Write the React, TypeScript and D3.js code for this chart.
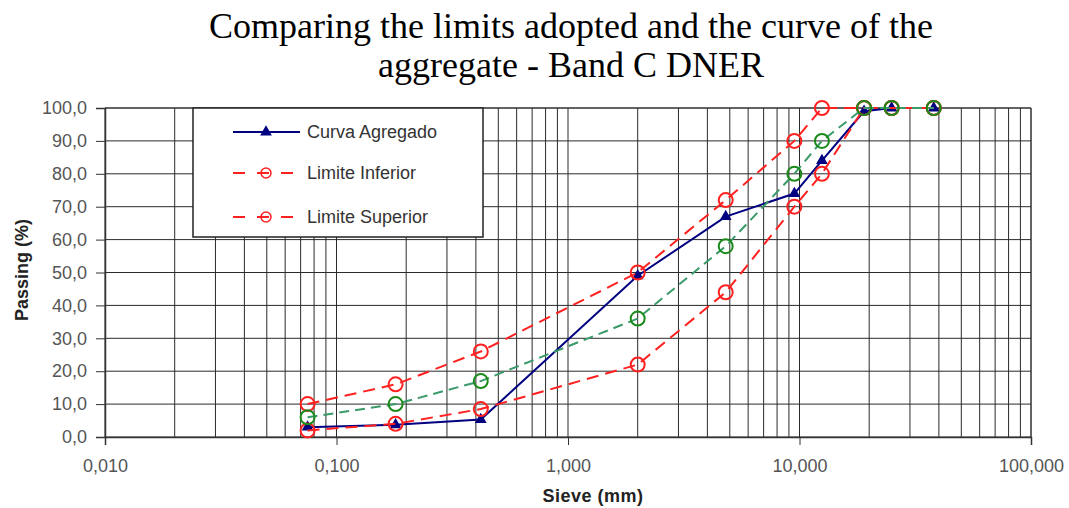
import * as React from "react";
import { useRef, useEffect } from "react";
import * as d3 from "d3";

// sieve openings (mm)
const sieves = [0.075, 0.18, 0.42, 2.0, 4.8, 9.5, 12.5, 19, 25, 38];
const curvaAgregado = [3, 3.7, 5.3, 49, 67, 74, 84, 99, 100, 100];
const limiteInferior = [2, 4, 8.5, 22, 44, 70, 80, 100, 100, 100];
const limiteSuperior = [10, 16, 26, 50, 72, 90, 100, 100, 100, 100];
const faixaCentro = [6, 10, 17, 36, 58, 80, 90, 100, 100, 100];

const xTicks = [0.01, 0.1, 1, 10, 100];
const xTickLabels = ["0,010", "0,100", "1,000", "10,000", "100,000"];
const yTicks = [0, 10, 20, 30, 40, 50, 60, 70, 80, 90, 100];

const titleLines = [
  "Comparing the limits adopted and the curve of the",
  "aggregate - Band C DNER",
];
const legendNames = ["Curva Agregado", "Limite Inferior", "Limite Superior"];

const W = 1069;
const H = 508;
const SANS = "'Liberation Sans', Arial, sans-serif";

export default function App() {
  const ref = useRef<SVGSVGElement>(null);

  useEffect(() => {
    const svg = d3.select(ref.current);
    svg.selectAll("*").remove();

    const margin = { top: 108, right: 38, bottom: 71, left: 105 };
    const width = W - margin.left - margin.right;
    const height = H - margin.top - margin.bottom;

    const x = d3.scaleLog().domain([0.01, 100]).range([0, width]);
    const y = d3.scaleLinear().domain([0, 100]).range([height, 0]);

    // title
    svg
      .append("g")
      .selectAll("text")
      .data(titleLines)
      .enter()
      .append("text")
      .attr("x", 571)
      .attr("y", (_, i) => 38 + i * 39)
      .attr("text-anchor", "middle")
      .attr("font-family", "'Liberation Serif', 'Times New Roman', serif")
      .attr("font-size", 36)
      .attr("fill", "#000")
      .text((d) => d);

    const g = svg
      .append("g")
      .attr("transform", `translate(${margin.left},${margin.top})`);

    // grid: every log tick
    const minor: number[] = [];
    for (let p = -2; p < 2; p++) {
      for (let k = 1; k <= 9; k++) minor.push(k * Math.pow(10, p));
    }
    minor.push(100);

    g.append("g")
      .selectAll("line")
      .data(minor)
      .enter()
      .append("line")
      .attr("x1", (d) => x(d))
      .attr("x2", (d) => x(d))
      .attr("y1", 0)
      .attr("y2", height)
      .attr("stroke", "#2a2a2a")
      .attr("stroke-width", 1);

    g.append("g")
      .selectAll("line")
      .data(yTicks)
      .enter()
      .append("line")
      .attr("x1", 0)
      .attr("x2", width)
      .attr("y1", (d) => y(d))
      .attr("y2", (d) => y(d))
      .attr("stroke", "#2a2a2a")
      .attr("stroke-width", 1);

    // axes
    const yAxis = d3
      .axisLeft(y)
      .tickValues(yTicks)
      .tickSize(9)
      .tickPadding(9)
      .tickFormat((d) => (d as number).toFixed(1).replace(".", ","));
    const ya = g.append("g").call(yAxis);
    ya.select(".domain").attr("stroke", "#333").attr("stroke-width", 1.5);
    ya.selectAll(".tick line").attr("stroke", "#333");
    ya.selectAll(".tick text")
      .attr("font-family", SANS)
      .attr("font-size", 18)
      .attr("fill", "#555");

    const xAxis = d3
      .axisBottom(x)
      .tickValues(xTicks)
      .tickSize(8)
      .tickPadding(14)
      .tickFormat((_, i) => xTickLabels[i]);
    const xa = g.append("g").attr("transform", `translate(0,${height})`).call(xAxis);
    xa.select(".domain").attr("stroke", "#333").attr("stroke-width", 1.5);
    xa.selectAll(".tick line").attr("stroke", "#333");
    xa.selectAll(".tick text")
      .attr("font-family", SANS)
      .attr("font-size", 18)
      .attr("fill", "#555");

    // plot border top/right
    g.append("line").attr("x1", 0).attr("x2", width).attr("y1", 0).attr("y2", 0).attr("stroke", "#333");
    g.append("line").attr("x1", width).attr("x2", width).attr("y1", 0).attr("y2", height).attr("stroke", "#333");

    // axis titles
    svg
      .append("text")
      .attr("transform", `translate(28,270) rotate(-90)`)
      .attr("text-anchor", "middle")
      .attr("font-family", SANS)
      .attr("font-size", 18)
      .attr("font-weight", "bold")
      .attr("fill", "#222")
      .text("Passing  (%)");

    svg
      .append("text")
      .attr("x", 593)
      .attr("y", 502)
      .attr("text-anchor", "middle")
      .attr("font-family", SANS)
      .attr("font-size", 18)
      .attr("font-weight", "bold")
      .attr("letter-spacing", 0.5)
      .attr("fill", "#222")
      .text("Sieve  (mm)");

    // series
    const pts = (vals: number[]) => sieves.map((s, i) => [s, vals[i]] as [number, number]);
    const line = d3
      .line<[number, number]>()
      .x((d) => x(d[0]))
      .y((d) => y(d[1]));

    const drawCircles = (vals: number[], stroke: string) => {
      g.append("g")
        .selectAll("circle")
        .data(pts(vals))
        .enter()
        .append("circle")
        .attr("cx", (d) => x(d[0]))
        .attr("cy", (d) => y(d[1]))
        .attr("r", 7)
        .attr("fill", "none")
        .attr("stroke", stroke)
        .attr("stroke-width", 2);
    };

    // curva agregado
    g.append("path")
      .datum(pts(curvaAgregado))
      .attr("fill", "none")
      .attr("stroke", "#000080")
      .attr("stroke-width", 2)
      .attr("d", line);
    const tri = d3.symbol().type(d3.symbolTriangle).size(60);
    g.append("g")
      .selectAll("path")
      .data(pts(curvaAgregado))
      .enter()
      .append("path")
      .attr("transform", (d) => `translate(${x(d[0])},${y(d[1])})`)
      .attr("d", tri)
      .attr("fill", "#000080");

    // limite inferior
    g.append("path")
      .datum(pts(limiteInferior))
      .attr("fill", "none")
      .attr("stroke", "#ff2020")
      .attr("stroke-width", 2)
      .attr("stroke-dasharray", "12,7")
      .attr("d", line);
    drawCircles(limiteInferior, "#ff2020");

    // limite superior
    g.append("path")
      .datum(pts(limiteSuperior))
      .attr("fill", "none")
      .attr("stroke", "#ff2020")
      .attr("stroke-width", 2)
      .attr("stroke-dasharray", "12,7")
      .attr("d", line);
    drawCircles(limiteSuperior, "#ff2020");

    // centro da faixa
    g.append("path")
      .datum(pts(faixaCentro))
      .attr("fill", "none")
      .attr("stroke", "#3a9a6a")
      .attr("stroke-width", 2)
      .attr("stroke-dasharray", "10,6")
      .attr("d", line);
    drawCircles(faixaCentro, "#1a8a1a");

    // legend
    const lg = svg.append("g").attr("transform", "translate(193,108)");
    lg.append("rect")
      .attr("width", 290)
      .attr("height", 129)
      .attr("fill", "#fff")
      .attr("stroke", "#222")
      .attr("stroke-width", 1.5);
    const rows = [24, 65, 109];
    legendNames.forEach((name, i) => {
      const ry = rows[i];
      const row = lg.append("g").attr("transform", `translate(0,${ry})`);
      if (i === 0) {
        row.append("line").attr("x1", 40).attr("x2", 107).attr("stroke", "#000080").attr("stroke-width", 2);
        row.append("path").attr("transform", "translate(73,0)").attr("d", tri).attr("fill", "#000080");
      } else {
        row.append("line")
          .attr("x1", 40)
          .attr("x2", 107)
          .attr("stroke", "#ff2020")
          .attr("stroke-width", 2)
          .attr("stroke-dasharray", "12,12");
        row.append("circle")
          .attr("cx", 73)
          .attr("r", 5)
          .attr("fill", "none")
          .attr("stroke", "#ff2020")
          .attr("stroke-width", 1.5);
      }
      row.append("text")
        .attr("x", 114)
        .attr("y", 6)
        .attr("font-family", SANS)
        .attr("font-size", 18)
        .attr("fill", "#333")
        .text(name);
    });
  }, []);

  return (
    <svg
      ref={ref}
      width={W}
      height={H}
      style={{ position: "absolute", left: 0, top: 0, background: "#fff" }}
    />
  );
}
